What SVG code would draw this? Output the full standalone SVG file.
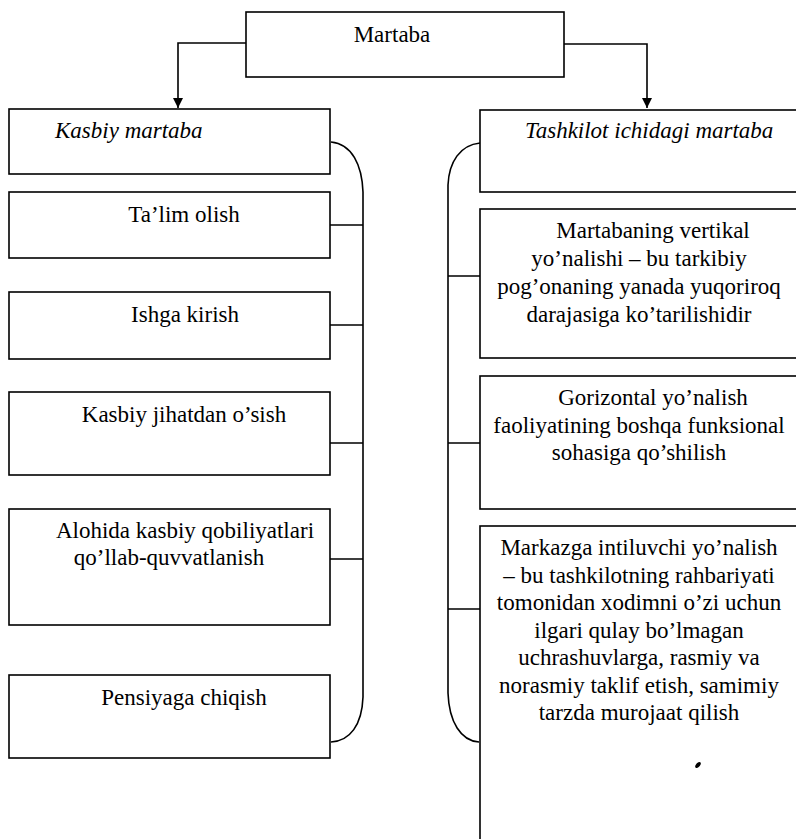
<svg xmlns="http://www.w3.org/2000/svg" width="796" height="839" viewBox="0 0 796 839" font-family="'Liberation Serif', 'Times New Roman', serif" font-size="23">
<defs>
<marker id="arr" viewBox="0 0 10 10" refX="10" refY="5" markerWidth="11" markerHeight="10" markerUnits="userSpaceOnUse" orient="auto">
<path d="M0,0 L10,5 L0,10 Z" fill="#000"/>
</marker>
<style>
.box{fill:#fff;stroke:#000;stroke-width:1.6}
.ln{fill:none;stroke:#000;stroke-width:1.6}
text{font-family:'Liberation Serif','Times New Roman',serif;font-size:23px;fill:#000}
.c{text-anchor:middle}
.i{font-style:italic}
</style>
</defs>
<rect width="796" height="839" fill="#fff"/>
<g id="connectors">
<path class="ln" d="M246,43 H178 V108" marker-end="url(#arr)"/>
<path class="ln" d="M564,44 H647 V108" marker-end="url(#arr)"/>
<path class="ln" d="M331,142 C352,144 362,165 363,192 V697 C362,725 350,741 331,742"/>
<path class="ln" d="M330,225 H363 M330,325 H363 M330,443 H363 M330,559 H363"/>
<path class="ln" d="M480,143 C460,145 449,162 448,185 V693 C449,722 461,741 479,742"/>
<path class="ln" d="M448,276 H480 M448,443 H480 M448,609 H480"/>
</g>
<g id="martaba"><rect class="box" x="246" y="12" width="318" height="65"/><text class="c" x="392" y="42">Martaba</text></g>
<g id="kasbiy"><rect class="box" x="9" y="109" width="321" height="65"/><text class="i" x="55" y="138">Kasbiy martaba</text></g>
<g id="talim"><rect class="box" x="9" y="192" width="321" height="66"/><text class="c" x="184" y="222">Ta’lim olish</text></g>
<g id="ishga"><rect class="box" x="9" y="292" width="321" height="67"/><text class="c" x="185" y="322">Ishga kirish</text></g>
<g id="osish"><rect class="box" x="9" y="392" width="321" height="83"/><text class="c" x="184" y="422">Kasbiy jihatdan o’sish</text></g>
<g id="alohida"><rect class="box" x="9" y="509" width="321" height="116"/><text class="c" x="185" y="538">Alohida kasbiy qobiliyatlari</text><text class="c" x="169" y="565">qo’llab-quvvatlanish</text></g>
<g id="pensiya"><rect class="box" x="9" y="675" width="321" height="83"/><text class="c" x="184" y="705">Pensiyaga chiqish</text></g>
<g id="tashkilot"><rect class="box" x="480" y="110" width="318" height="82"/><text class="i" x="525" y="138">Tashkilot ichidagi martaba</text></g>
<g id="vertikal"><rect class="box" x="480" y="209" width="318" height="149"/>
<text class="c" x="653" y="238">Martabaning vertikal</text>
<text class="c" x="639" y="266">yo’nalishi – bu tarkibiy</text>
<text class="c" x="639" y="294">pog’onaning yanada yuqoriroq</text>
<text class="c" x="639" y="322">darajasiga ko’tarilishidir</text></g>
<g id="gorizontal"><rect class="box" x="480" y="376" width="318" height="133"/>
<text class="c" x="653" y="405">Gorizontal yo’nalish</text>
<text class="c" x="639" y="433">faoliyatining boshqa funksional</text>
<text class="c" x="639" y="460">sohasiga qo’shilish</text></g>
<g id="markazga"><rect class="box" x="480" y="526" width="318" height="330"/>
<text class="c" x="639" y="555">Markazga intiluvchi yo’nalish</text>
<text class="c" x="639" y="583">– bu tashkilotning rahbariyati</text>
<text class="c" x="639" y="610">tomonidan xodimni o’zi uchun</text>
<text class="c" x="639" y="638">ilgari qulay bo’lmagan</text>
<text class="c" x="639" y="665">uchrashuvlarga, rasmiy va</text>
<text class="c" x="639" y="693">norasmiy taklif etish, samimiy</text>
<text class="c" x="639" y="720">tarzda murojaat qilish</text></g>
<ellipse cx="698" cy="765" rx="3.5" ry="2" transform="rotate(-50 698 765)" fill="#000"/>
</svg>
